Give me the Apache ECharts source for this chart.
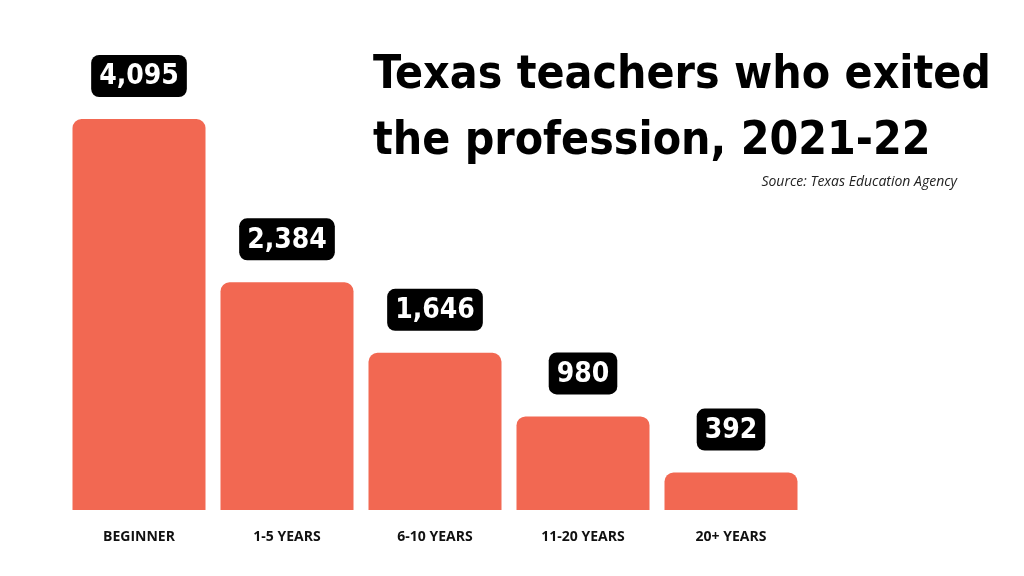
<!DOCTYPE html>
<html><head><meta charset="utf-8">
<script src="https://cdn.jsdelivr.net/npm/echarts@6/dist/echarts.min.js"></script>
<style>html,body{margin:0;background:#fff}#c{width:1024px;height:576px}</style>
</head><body><div id="c"></div>
<script>
const categories = ['BEGINNER','1-5 YEARS','6-10 YEARS','11-20 YEARS','20+ YEARS'];
const values = [4095, 2384, 1646, 980, 392];
const condensed = '"DejaVu Sans Condensed", "DejaVu Sans", sans-serif';
const chart = echarts.init(document.getElementById('c'));
chart.setOption({
  backgroundColor:'#fff',
  animation:false,
  title:[
    {text:'Texas teachers who exited\nthe profession, 2021-22', right:28, top:38,
     textStyle:{fontFamily:condensed, fontWeight:'bold', fontSize:46, lineHeight:66, color:'#000', align:'right'}},
    {text:'Source: Texas Education Agency', right:62, top:170,
     textStyle:{fontFamily:'Open Sans', fontStyle:'italic', fontWeight:'normal', fontSize:14, color:'#222'}}
  ],
  grid:{left:65, right:219, top:119, bottom:66},
  xAxis:{type:'category', data:categories, axisLine:{show:false}, axisTick:{show:false},
    axisLabel:{margin:20, fontFamily:'Open Sans', fontWeight:'bold', fontSize:14, color:'#111'}},
  yAxis:{type:'value', min:0, max:4095, show:false, splitLine:{show:false}},
  series:[{type:'bar', data:values, barWidth:133,
    itemStyle:{color:'#F26852', borderRadius:[9,9,0,0]},
    label:{show:true, position:'top', distance:22, formatter:p=>p.value.toLocaleString('en-US'),
      backgroundColor:'#000', borderRadius:8, padding:[8,8,6,8], color:'#fff',
      fontFamily:condensed, fontWeight:'bold', fontSize:28}}]
});
</script></body></html>
